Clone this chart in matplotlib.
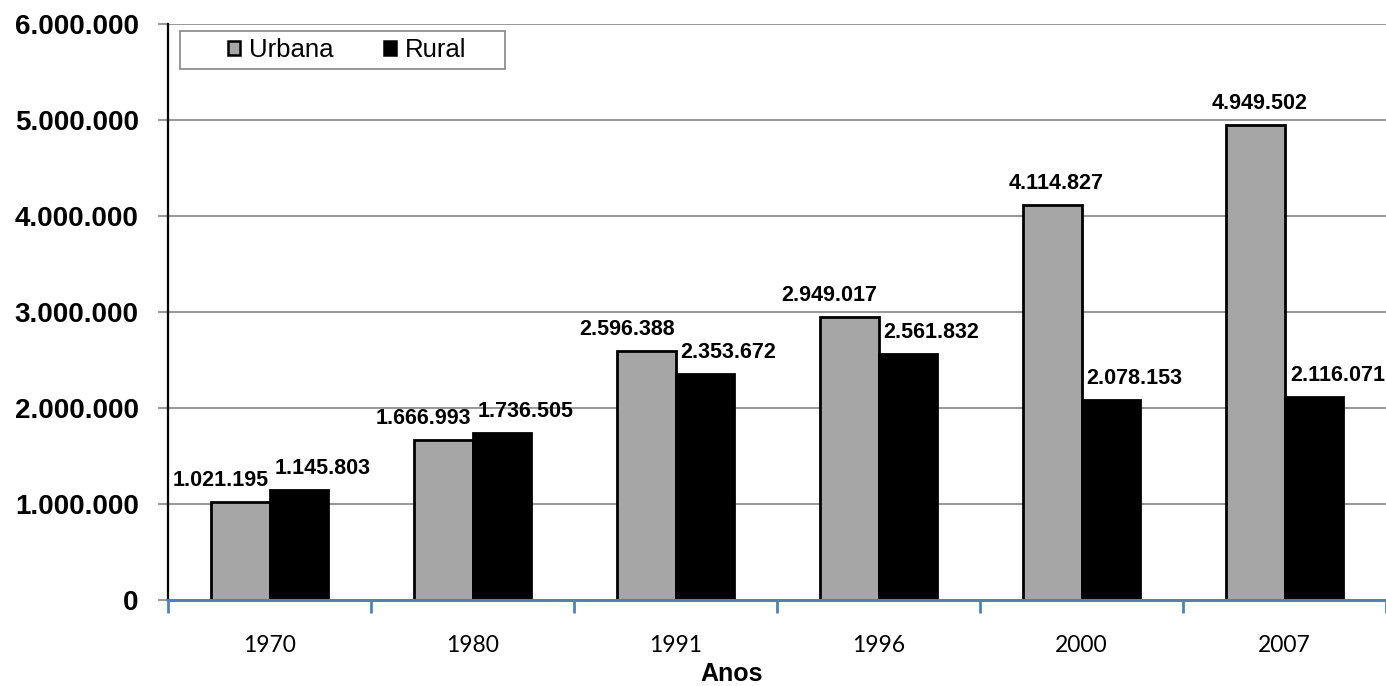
import matplotlib.pyplot as plt
import numpy as np
from matplotlib.patches import Patch, Rectangle

anos = ["1970", "1980", "1991", "1996", "2000", "2007"]
urbana = [1021195, 1666993, 2596388, 2949017, 4114827, 4949502]
rural = [1145803, 1736505, 2353672, 2561832, 2078153, 2116071]
yticks = [0, 1000000, 2000000, 3000000, 4000000, 5000000, 6000000]


def fmt(v):
    return f"{v:,}".replace(",", ".")


plt.rcParams['font.family'] = ['Liberation Sans', 'DejaVu Sans']

fig = plt.figure(figsize=(13.86, 6.86), dpi=100)
ax = fig.add_axes([168 / 1386, 1 - 600 / 686, 1 - 168 / 1386, 576 / 686])

x = np.arange(len(anos))
w = 0.29
gray = "#a6a6a6"
b1 = ax.bar(x - w / 2, urbana, w, color=gray, edgecolor="black", linewidth=2, zorder=3)
b2 = ax.bar(x + w / 2, rural, w, color="black", edgecolor="black", linewidth=2, zorder=3)

# push the labels apart when the two bars of a year are close in height
for ru, rr, u, r in zip(b1, b2, urbana, rural):
    du = -14 if abs(u - r) < 1000000 else 3
    ax.annotate(fmt(u), (ru.get_x() + ru.get_width() / 2, u), xytext=(du, 8),
                textcoords="offset points", ha="center", va="bottom",
                fontsize=15.5, fontweight="bold", zorder=4)
    ax.annotate(fmt(r), (rr.get_x() + rr.get_width() / 2, r), xytext=(17, 8),
                textcoords="offset points", ha="center", va="bottom",
                fontsize=15.5, fontweight="bold", zorder=4)

ax.set_xlim(-0.5, len(anos) - 0.5)
ax.set_ylim(0, 6000000)
ax.set_yticks(yticks)
ax.set_yticklabels([fmt(t) for t in yticks], fontsize=20, fontweight="bold")
ax.yaxis.grid(True, color="#868686", linewidth=1.2, zorder=0)
ax.tick_params(axis="y", length=7, color="#868686", width=1.2, pad=14)

ax.set_xticks(x)
ax.set_xticklabels(anos, fontsize=16.5, family=["Lato", "DejaVu Sans"])
ax.set_xticks(np.arange(len(anos) + 1) - 0.5, minor=True)
ax.tick_params(axis="x", which="major", length=0, pad=25)
ax.tick_params(axis="x", which="minor", length=9, color="#4f81bd", width=2)
ax.set_xlabel("Anos", fontsize=18, fontweight="bold")
ax.xaxis.set_label_coords((732 - 168) / 1218, -0.108)

for s in ["top", "right"]:
    ax.spines[s].set_visible(False)
ax.spines["left"].set_color("black")
ax.spines["left"].set_linewidth(1.6)
ax.spines["bottom"].set_color("#4f81bd")
ax.spines["bottom"].set_linewidth(2.2)
ax.spines["bottom"].set_zorder(5)

# legend box with the two entries centred inside it
box = Rectangle((180 / 1386, 1 - 69 / 686), 325 / 1386, 38 / 686, transform=fig.transFigure,
                facecolor="white", edgecolor="#868686", linewidth=1.2, zorder=6)
fig.add_artist(box)
handles = [Patch(facecolor=gray, edgecolor="black", linewidth=1.8, label="Urbana"),
           Patch(facecolor="black", edgecolor="black", linewidth=1.8, label="Rural")]
leg = fig.legend(handles=handles, loc="center", bbox_to_anchor=(347 / 1386, 1 - 50 / 686),
                 ncol=2, fontsize=18.5, frameon=False, borderaxespad=0, borderpad=0,
                 handlelength=0.47, handleheight=0.47, handletextpad=0.35,
                 columnspacing=1.95)
leg.set_zorder(7)

fig.savefig("out.png", dpi=100)
